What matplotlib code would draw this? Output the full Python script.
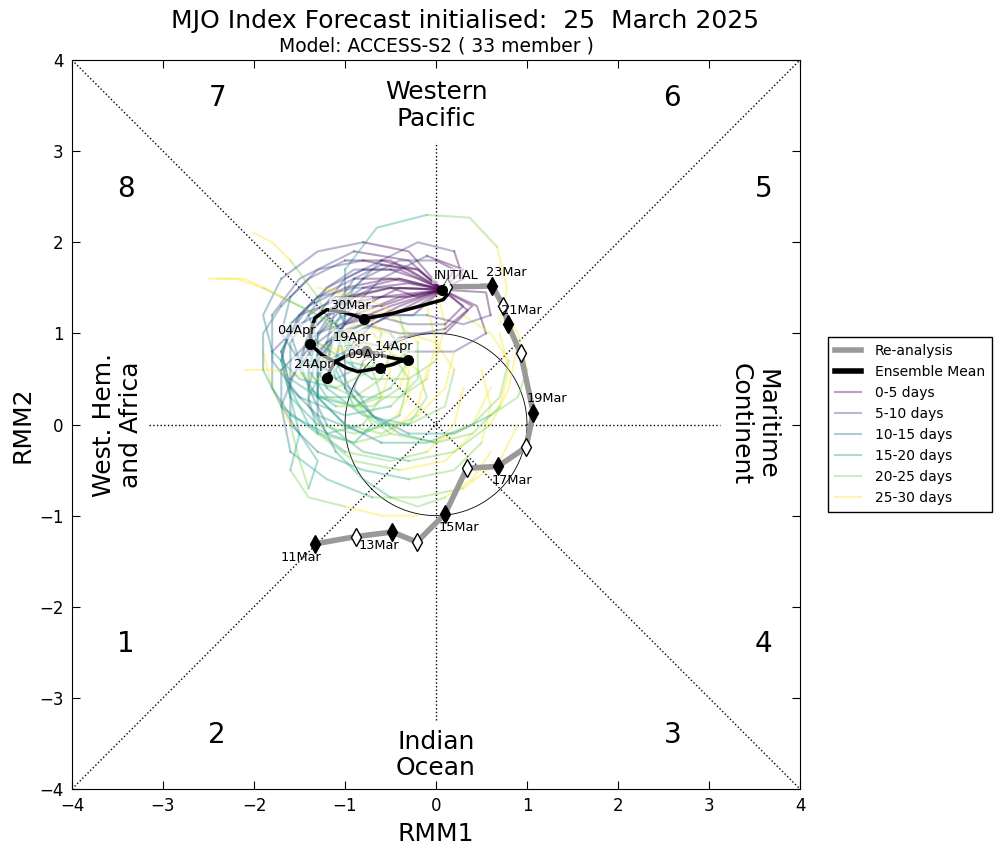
import matplotlib
matplotlib.use("Agg")
import matplotlib.pyplot as plt
from matplotlib.lines import Line2D
import numpy as np

# ---------------- data ----------------
title_text = "MJO Index Forecast initialised:  25  March 2025"
subtitle_text = "Model: ACCESS-S2 ( 33 member )"

# Re-analysis (11 Mar - 24 Mar)
rean_dates = ["11Mar", "12Mar", "13Mar", "14Mar", "15Mar", "16Mar", "17Mar",
              "18Mar", "19Mar", "20Mar", "21Mar", "22Mar", "23Mar", "24Mar"]
rean_x = [-1.33, -0.88, -0.48, -0.21, 0.10, 0.34, 0.68, 0.99, 1.07, 0.93, 0.79, 0.74, 0.62, 0.12]
rean_y = [-1.31, -1.23, -1.18, -1.29, -0.98, -0.48, -0.46, -0.25, 0.13, 0.78, 1.10, 1.30, 1.52, 1.51]

# Ensemble mean (daily, 25 Mar - 24 Apr)
ens_x = [0.07, 0.12, 0.08, -0.21, -0.47, -0.79, -1.00, -1.20, -1.33, -1.38, -1.38,
         -1.25, -1.11, -0.98, -0.86, -0.62, -0.55, -0.47, -0.40, -0.35, -0.31,
         -0.42, -0.53, -0.62, -0.70, -0.77, -0.87, -0.97, -1.11, -1.16, -1.20]
ens_y = [1.48, 1.42, 1.37, 1.29, 1.22, 1.16, 1.23, 1.26, 1.17, 1.02, 0.88,
         0.76, 0.69, 0.62, 0.58, 0.62, 0.64, 0.66, 0.69, 0.70, 0.71,
         0.72, 0.74, 0.77, 0.79, 0.81, 0.79, 0.76, 0.69, 0.60, 0.51]
ens_label_idx = [0, 5, 10, 15, 20, 25, 30]
ens_labels = ["INITIAL", "30Mar", "04Apr", "09Apr", "14Apr", "19Apr", "24Apr"]

# Ensemble members: positions every 2.5 days (0..30 days)
members_x = [
    [0.07, -0.3, -0.7, -1.1, -1.4, -1.5, -1.3, -0.9, -0.5, -0.3, -0.5, -0.9, -1.2],
    [0.07, -0.2, -0.6, -1.0, -1.3, -1.4, -1.2, -0.8, -0.3, 0.1, 0.2, 0.0, -0.3],
    [0.07, 0.45, 0.55, 0.2, -0.3, -0.8, -1.2, -1.4, -1.3, -0.9, -0.4, 0.1, 0.4],
    [0.07, -0.4, -0.9, -1.3, -1.6, -1.6, -1.3, -0.8, -0.3, 0.2, 0.5, 0.6, 0.5],
    [0.07, -0.3, -0.9, -1.5, -1.8, -1.8, -1.5, -1.0, -0.5, -0.2, -0.2, -0.5, -1.0],
    [0.07, -0.5, -1.0, -1.4, -1.6, -1.5, -1.2, -0.9, -1.1, -1.5, -1.9, -2.2, -2.4],
    [0.07, -0.2, -0.6, -0.9, -1.1, -1.0, -1.0, -0.65, -0.1, 0.37, 0.67, 0.78, 0.7],
    [0.07, 0.3, 0.2, -0.2, -0.6, -0.9, -1.1, -1.0, -0.7, -0.3, 0.0, 0.1, 0.0],
    [0.07, -0.5, -1.0, -1.3, -1.3, -1.0, -0.6, -0.1, 0.4, 0.7, 0.8, 0.6, 0.3],
    [0.07, -0.2, -0.6, -1.0, -1.3, -1.4, -1.2, -0.8, -0.3, 0.2, 0.6, 0.8, 0.9],
    [0.07, -0.4, -0.8, -1.1, -1.3, -1.3, -1.1, -0.8, -0.5, -0.2, 0.1, 0.4, 0.6],
    [0.07, -0.25, -0.8, -1.3, -1.7, -1.7, -1.5, -1.3, -1.4, -1.5, -1.6, -1.8, -1.9],
    [0.07, -0.3, -0.7, -1.1, -1.4, -1.6, -1.6, -1.3, -0.9, -0.6, -0.5, -0.7, -1.0],
    [0.07, 0.35, 0.1, -0.4, -0.8, -1.1, -1.3, -1.3, -1.0, -0.6, -0.2, 0.1, 0.2],
    [0.07, -0.2, -0.5, -0.9, -1.2, -1.4, -1.3, -1.0, -0.6, -0.3, -0.4, -0.8, -1.3],
    [0.07, -0.5, -1.0, -1.5, -1.7, -1.6, -1.3, -0.8, -0.4, -0.3, -0.5, -0.9, -1.3],
    [0.07, 0.55, 0.6, 0.3, -0.1, -0.5, -0.9, -1.1, -0.9, -0.5, 0.0, 0.4, 0.6],
    [0.07, -0.3, -0.7, -1.0, -1.0, -0.7, -0.3, 0.2, 0.6, 0.9, 1.0, 0.9, 0.7],
    [0.07, -0.4, -0.8, -1.2, -1.5, -1.7, -1.6, -1.4, -1.0, -0.5, -0.1, 0.2, 0.3],
    [0.07, 0.3, -0.1, -0.6, -1.0, -1.1, -0.9, -0.6, -0.3, -0.1, -0.2, -0.5, -0.9],
    [0.07, -0.3, -0.8, -1.3, -1.6, -1.7, -1.5, -1.2, -1.1, -1.3, -1.6, -1.8, -2.0],
    [0.07, -0.6, -1.1, -1.5, -1.8, -1.8, -1.6, -1.2, -0.8, -0.6, -0.7, -1.0, -1.4],
    [0.07, 0.2, 0.0, -0.4, -0.8, -1.1, -1.2, -1.1, -0.8, -0.4, -0.1, 0.0, -0.1],
    [0.07, -0.4, -0.9, -1.3, -1.6, -1.7, -1.6, -1.5, -1.6, -1.4, -1.0, -0.6, -0.2],
    [0.07, -0.3, -0.6, -0.9, -1.2, -1.4, -1.5, -1.4, -1.1, -0.7, -0.4, -0.3, -0.4],
    [0.07, -0.5, -1.0, -1.4, -1.7, -1.9, -1.9, -1.7, -1.3, -0.9, -0.5, -0.2, -0.1],
    [0.07, -0.4, -0.8, -1.2, -1.4, -1.4, -1.2, -0.9, -0.7, -0.9, -1.3, -1.8, -2.1],
    [0.07, 0.4, 0.1, -0.4, -0.8, -0.9, -0.7, -0.4, 0.0, 0.4, 0.7, 0.8, 0.7],
    [0.07, -0.3, -0.8, -1.3, -1.7, -1.9, -1.8, -1.5, -1.1, -0.7, -0.6, -0.8, -1.2],
    [0.07, -0.5, -0.9, -1.2, -1.5, -1.7, -1.6, -1.2, -0.7, -0.2, 0.3, 0.7, 0.9],
    [0.07, 0.3, 0.1, -0.3, -0.7, -1.0, -1.3, -1.4, -1.2, -0.9, -0.6, -0.5, -0.6],
    [0.07, -0.2, -0.5, -0.9, -1.3, -1.6, -1.7, -1.6, -1.3, -0.9, -0.5, -0.3, -0.3],
    [0.07, -0.4, -0.8, -1.1, -1.3, -1.3, -1.1, -0.9, -1.0, -1.3, -1.7, -2.1, -2.5],
]
members_y = [
    [1.48, 1.55, 1.5, 1.3, 1.0, 0.6, 0.3, 0.2, 0.4, 0.7, 1.0, 1.1, 0.9],
    [1.48, 1.7, 1.8, 1.6, 1.2, 0.8, 0.4, 0.1, 0.0, 0.2, 0.6, 0.9, 1.0],
    [1.48, 1.3, 1.0, 0.8, 0.8, 0.9, 0.7, 0.3, -0.1, -0.4, -0.5, -0.4, -0.1],
    [1.48, 1.4, 1.2, 0.9, 0.5, 0.0, -0.3, -0.5, -0.6, -0.5, -0.2, 0.2, 0.6],
    [1.48, 1.8, 1.9, 1.6, 1.2, 0.7, 0.3, 0.1, 0.2, 0.5, 0.9, 1.2, 1.3],
    [1.48, 1.6, 1.5, 1.3, 1.0, 0.7, 0.6, 0.8, 1.1, 1.3, 1.5, 1.6, 1.6],
    [1.48, 1.7, 1.75, 1.6, 1.3, 1.1, 1.7, 2.16, 2.3, 2.27, 1.95, 1.5, 1.1],
    [1.48, 1.6, 1.9, 2.0, 1.8, 1.5, 1.1, 0.7, 0.5, 0.5, 0.7, 1.1, 1.5],
    [1.48, 1.3, 1.1, 0.7, 0.3, 0.0, -0.2, -0.2, 0.0, 0.3, 0.7, 1.0, 1.2],
    [1.48, 1.3, 1.2, 1.1, 0.8, 0.4, 0.0, -0.3, -0.4, -0.3, 0.0, 0.4, 0.9],
    [1.48, 1.5, 1.3, 1.0, 0.6, 0.1, -0.3, -0.6, -0.8, -0.9, -0.8, -0.6, -0.3],
    [1.48, 1.2, 1.2, 1.0, 0.6, 0.2, -0.1, -0.4, -0.7, -0.4, 0.0, 0.4, 0.8],
    [1.48, 1.4, 1.4, 1.4, 1.2, 0.9, 0.5, 0.3, 0.3, 0.5, 0.8, 1.0, 1.0],
    [1.48, 1.25, 1.0, 1.0, 1.1, 1.0, 0.7, 0.3, 0.0, -0.1, 0.1, 0.4, 0.8],
    [1.48, 1.6, 1.7, 1.7, 1.5, 1.2, 0.9, 0.7, 0.6, 0.8, 1.2, 1.4, 1.5],
    [1.48, 1.5, 1.4, 1.2, 0.8, 0.4, 0.1, -0.1, 0.1, 0.5, 0.8, 0.9, 0.7],
    [1.48, 1.45, 1.2, 1.1, 1.2, 1.2, 1.0, 0.6, 0.2, -0.1, -0.2, 0.0, 0.4],
    [1.48, 1.3, 1.1, 0.8, 0.4, 0.1, -0.1, -0.1, 0.1, 0.3, 0.6, 1.0, 1.3],
    [1.48, 1.7, 1.7, 1.5, 1.2, 0.8, 0.4, 0.0, -0.3, -0.4, -0.3, 0.0, 0.4],
    [1.48, 1.7, 1.85, 1.6, 1.2, 0.7, 0.3, 0.0, 0.0, 0.3, 0.6, 0.8, 0.8],
    [1.48, 1.7, 1.8, 1.7, 1.4, 1.0, 0.7, 0.7, 1.0, 1.4, 1.8, 2.0, 2.1],
    [1.48, 1.4, 1.3, 1.1, 0.8, 0.4, 0.1, -0.1, 0.0, 0.3, 0.6, 0.8, 0.9],
    [1.48, 1.7, 1.8, 1.8, 1.6, 1.3, 0.9, 0.5, 0.3, 0.3, 0.5, 0.9, 1.3],
    [1.48, 1.6, 1.6, 1.4, 1.1, 0.7, 0.3, -0.1, -0.5, -0.8, -0.9, -1.0, -1.0],
    [1.48, 1.4, 1.3, 1.3, 1.2, 1.0, 0.7, 0.4, 0.2, 0.2, 0.4, 0.7, 1.0],
    [1.48, 1.8, 1.8, 1.6, 1.3, 1.0, 0.6, 0.2, -0.1, -0.2, -0.1, 0.2, 0.6],
    [1.48, 1.3, 1.1, 0.9, 0.6, 0.2, -0.1, -0.2, 0.0, 0.3, 0.5, 0.6, 0.6],
    [1.48, 1.3, 1.05, 0.95, 0.7, 0.4, 0.1, -0.1, -0.2, -0.1, 0.2, 0.6, 1.0],
    [1.48, 1.9, 2.0, 1.9, 1.6, 1.2, 0.8, 0.5, 0.4, 0.6, 1.0, 1.3, 1.5],
    [1.48, 1.5, 1.4, 1.1, 0.7, 0.2, -0.3, -0.6, -0.8, -0.8, -0.7, -0.4, 0.0],
    [1.48, 1.3, 1.1, 1.1, 1.2, 1.2, 1.0, 0.6, 0.3, 0.2, 0.3, 0.6, 0.9],
    [1.48, 1.4, 1.5, 1.5, 1.4, 1.1, 0.7, 0.3, 0.0, -0.1, 0.0, 0.3, 0.6],
    [1.48, 1.6, 1.5, 1.3, 1.0, 0.7, 0.5, 0.6, 0.9, 1.2, 1.4, 1.6, 1.6],
]
lead_labels = ["0-5 days", "5-10 days", "10-15 days", "15-20 days", "20-25 days", "25-30 days"]

phase_labels = ["1", "2", "3", "4", "5", "6", "7", "8"]
phase_pos = [(-3.5, -2.5), (-2.5, -3.5), (2.5, -3.5), (3.5, -2.5),
             (3.5, 2.5), (2.5, 3.5), (-2.5, 3.5), (-3.5, 2.5)]

# ---------------- figure ----------------
W, H = 1006, 850
fig = plt.figure(figsize=(W / 100, H / 100), dpi=100, facecolor="white")
ax = fig.add_axes([72 / W, 1 - 789 / H, 728 / W, 729 / H])
ax.set_xlim(-4, 4)
ax.set_ylim(-4, 4)

# reference lines
ax.plot([-4, 4], [-4, 4], color="black", ls=":", lw=1, zorder=1)
ax.plot([-4, 4], [4, -4], color="black", ls=":", lw=1, zorder=1)
ax.plot([-3.15, 3.12], [0, 0], color="black", ls=":", lw=1, zorder=1)
ax.plot([0, 0], [-3.24, 3.1], color="black", ls=":", lw=1, zorder=1)
theta = np.linspace(0, 2 * np.pi, 300)
ax.plot(np.cos(theta), np.sin(theta), color="black", lw=0.6, zorder=2)

# ensemble members
cols = plt.cm.viridis(np.linspace(0, 1, 6))
member_alpha = 0.38
for mx, my in zip(members_x, members_y):
    for k in range(6):
        ax.plot(mx[2 * k:2 * k + 3], my[2 * k:2 * k + 3], color=cols[k],
                alpha=member_alpha, lw=1.5, zorder=3)

# re-analysis
ax.plot(rean_x, rean_y, color="#999999", lw=4, zorder=4)
for i, (x, y) in enumerate(zip(rean_x, rean_y)):
    filled = (i % 2 == 0)
    ax.plot(x, y, marker="d", ms=9, mfc="black" if filled else "white",
            mec="black", mew=1, zorder=5)
    if filled:
        ax.text(x + 0.15 * np.sign(x), y + 0.15 * np.sign(y), rean_dates[i],
                fontsize=9.3, ha="center", va="center", zorder=6)

# ensemble mean
ax.plot(ens_x, ens_y, color="black", lw=2.5, zorder=7)
for idx, lab in zip(ens_label_idx, ens_labels):
    x, y = ens_x[idx], ens_y[idx]
    ax.plot(x, y, "o", color="black", ms=7, zorder=8)
    ax.text(x + 0.15 * np.sign(x), y + 0.15 * np.sign(y), lab, fontsize=9.3,
            ha="center", va="center", zorder=9,
            bbox=dict(facecolor="white", edgecolor="none", alpha=0.55, pad=1))

# phase numbers and regions
for lab, (px, py) in zip(phase_labels, phase_pos):
    ax.text(px, py, lab, fontsize=20, ha="left", va="baseline")
ax.text(0, 3.5, "Western\nPacific", fontsize=18, ha="center", va="center", linespacing=1.12)
ax.text(0, -3.63, "Indian\nOcean", fontsize=18, ha="center", va="center", linespacing=1.12)
ax.text(-3.5, 0, "West. Hem.\nand Africa", fontsize=18, ha="center", va="center",
        rotation=90, linespacing=1.12)
ax.text(3.49, 0, "Maritime\nContinent", fontsize=18, ha="center", va="center",
        rotation=270, linespacing=1.12)

# axes styling
ax.set_xticks(range(-4, 5))
ax.set_yticks(range(-4, 5))
ax.tick_params(direction="in", top=True, right=True, length=6, labelsize=12, pad=6)
ax.set_xlabel("RMM1", fontsize=18)
ax.set_ylabel("RMM2", fontsize=18)
ax.xaxis.set_label_coords(0.5, -0.045)
ax.yaxis.set_label_coords(-0.052, 0.5)

fig.text(465 / W, 1 - 21 / H, title_text, fontsize=18, ha="center", va="center")
fig.text(436 / W, 1 - 46 / H, subtitle_text, fontsize=13.5, ha="center", va="center")

# legend
handles = [Line2D([], [], color="#999999", lw=4),
           Line2D([], [], color="black", lw=4)]
for k in range(6):
    handles.append(Line2D([], [], color=cols[k], alpha=member_alpha, lw=1.5))
labels = ["Re-analysis", "Ensemble Mean"] + lead_labels
leg = ax.legend(handles, labels, loc="center left", bbox_to_anchor=(1.0385, 0.5),
                fontsize=10, fancybox=False, framealpha=1, edgecolor="black",
                borderaxespad=0, handlelength=1.9, handletextpad=0.95, borderpad=0.5)
leg.get_frame().set_linewidth(1)

fig.savefig("out.png", dpi=100, facecolor="white")
